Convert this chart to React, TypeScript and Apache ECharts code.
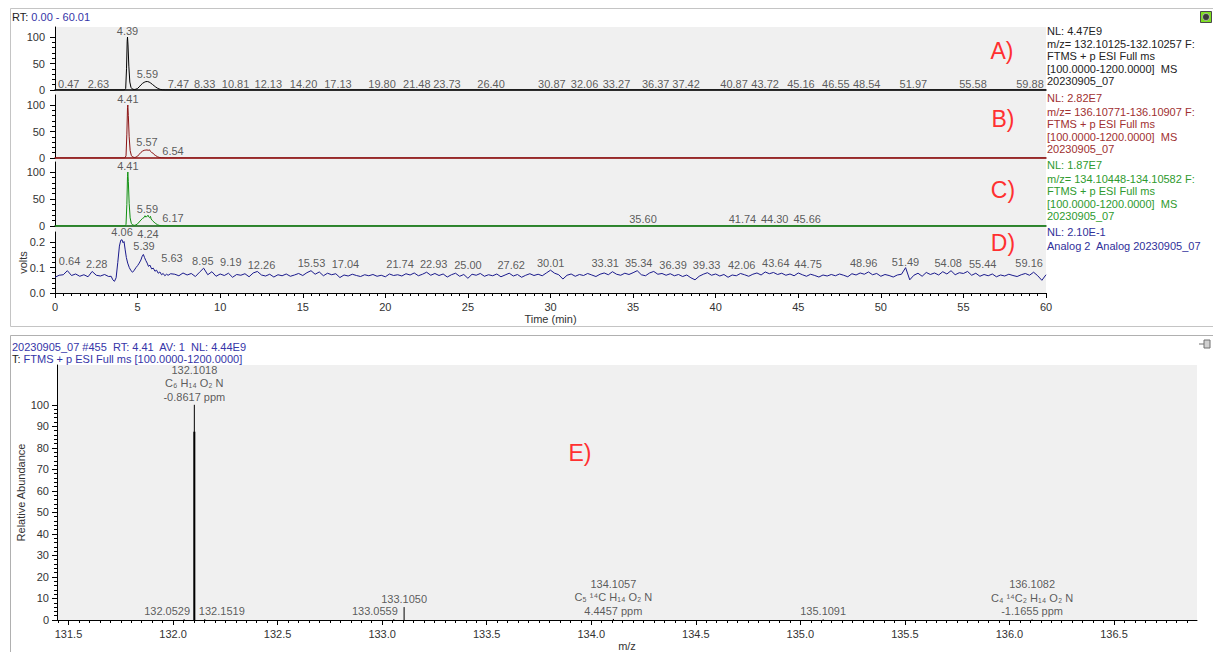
import React, { useEffect, useRef } from "react";
import * as echarts from "echarts";

const FONT = '"Liberation Sans", Arial, Helvetica, sans-serif';
const INK = "#333333";
const BLUE = "#3535a8";

// ---- Chromatogram A: m/z 132.10125-132.10257 (RT min, relative abundance %) ----
const traceA: [number, number][] = [
  [0, 0], [4.2, 0], [4.28, 3], [4.33, 40], [4.37, 92], [4.39, 100], [4.42, 85], [4.47, 45],
  [4.53, 15], [4.6, 5], [4.7, 1.5], [4.8, 1], [4.9, 1.5], [5.0, 3], [5.1, 6], [5.2, 9.5],
  [5.3, 12.5], [5.4, 14.5], [5.5, 15.8], [5.59, 16], [5.7, 15], [5.8, 13], [5.9, 10.5],
  [6.0, 8], [6.1, 5.5], [6.2, 3.5], [6.3, 2], [6.4, 1], [6.5, 0.3], [6.7, 0], [60, 0],
];

// ---- Chromatogram B: m/z 136.10771-136.10907 ----
const traceB: [number, number][] = [
  [0, 0], [4.22, 0], [4.3, 4], [4.35, 45], [4.39, 95], [4.41, 100], [4.44, 80], [4.49, 40],
  [4.55, 14], [4.62, 5], [4.7, 2], [4.8, 1], [4.9, 1.5], [5.0, 3.5], [5.1, 7], [5.2, 10.5],
  [5.3, 13], [5.4, 14.5], [5.5, 15], [5.57, 15.2], [5.65, 14.5], [5.72, 15.5], [5.78, 12.5],
  [5.85, 10.5], [5.92, 9.5], [6.0, 6.5], [6.1, 4.5], [6.2, 2.5], [6.3, 1.2], [6.45, 0.4],
  [6.7, 0], [60, 0],
];

// ---- Chromatogram C: m/z 134.10448-134.10582 ----
const traceC: [number, number][] = [
  [0, 0], [4.22, 0], [4.3, 3], [4.35, 40], [4.39, 92], [4.41, 100], [4.44, 82], [4.49, 42],
  [4.55, 15], [4.62, 5], [4.7, 2], [4.8, 1.2], [4.9, 2], [5.0, 4], [5.1, 7.5], [5.2, 11],
  [5.3, 14], [5.4, 16], [5.45, 19], [5.5, 16.5], [5.55, 17.5], [5.59, 18], [5.63, 20],
  [5.67, 17], [5.72, 15.5], [5.78, 18], [5.82, 13], [5.9, 10], [6.0, 7], [6.1, 4.5],
  [6.2, 2.5], [6.3, 1.2], [6.45, 0.4], [6.6, 0], [60, 0],
];

// ---- Trace D: Analog 2 detector signal (volts) ----
const ANALOG_STEP = 0.25;
// t = 0.00 ... 3.25
const analogEarly = [
  0.062, 0.07, 0.072, 0.088, 0.069, 0.075, 0.066, 0.072, 0.064, 0.085, 0.07, 0.067, 0.073, 0.065,
];
// t = 3.4 ... 7.0, sampled more densely across the two peaks
const analogPeak: [number, number][] = [
  [3.4, 0.066], [3.5, 0.052], [3.6, 0.046], [3.7, 0.06], [3.8, 0.12], [3.9, 0.185],
  [3.98, 0.208], [4.06, 0.21], [4.12, 0.198], [4.18, 0.203], [4.25, 0.17], [4.32, 0.14],
  [4.4, 0.118], [4.5, 0.1], [4.6, 0.088], [4.7, 0.082], [4.8, 0.09], [4.9, 0.1], [5.0, 0.108],
  [5.1, 0.118], [5.2, 0.13], [5.28, 0.145], [5.35, 0.152], [5.42, 0.14], [5.5, 0.128],
  [5.58, 0.118], [5.66, 0.105], [5.75, 0.11], [5.85, 0.095], [5.95, 0.098], [6.05, 0.086],
  [6.15, 0.09], [6.25, 0.078], [6.35, 0.083], [6.45, 0.072], [6.55, 0.077], [6.65, 0.068],
  [6.75, 0.074], [6.85, 0.07], [7.0, 0.076],
];
// t = 7.25 ... 60.00
const analogLate = [
  0.074, 0.068, 0.079, 0.071, 0.077, 0.065, 0.082, 0.098,
  0.072, 0.084, 0.066, 0.075, 0.069, 0.078, 0.062, 0.073,
  0.07, 0.076, 0.064, 0.079, 0.085, 0.071, 0.067, 0.074,
  0.063, 0.072, 0.068, 0.075, 0.066, 0.071, 0.077, 0.069,
  0.08, 0.088, 0.074, 0.083, 0.068, 0.078, 0.072, 0.076,
  0.061, 0.071, 0.067, 0.074, 0.069, 0.065, 0.072, 0.068,
  0.073, 0.066, 0.07, 0.064, 0.075, 0.069, 0.072, 0.067,
  0.076, 0.071, 0.079, 0.068, 0.074, 0.082, 0.07, 0.077,
  0.069, 0.075, 0.063, 0.072, 0.078, 0.066, 0.073, 0.058,
  0.074, 0.07, 0.077, 0.066, 0.072, 0.068, 0.075, 0.064,
  0.071, 0.078, 0.067, 0.073, 0.062, 0.07, 0.076, 0.069,
  0.074, 0.068, 0.079, 0.09, 0.078, 0.072, 0.055, 0.07,
  0.075, 0.066, 0.073, 0.069, 0.077, 0.071, 0.065, 0.074,
  0.079, 0.072, 0.084, 0.074, 0.07, 0.078, 0.073, 0.08,
  0.088, 0.072, 0.068, 0.079, 0.085, 0.074, 0.077, 0.07,
  0.076, 0.068, 0.073, 0.065, 0.071, 0.06, 0.052, 0.066,
  0.074, 0.08, 0.07, 0.075, 0.067, 0.073, 0.062, 0.071,
  0.068, 0.077, 0.072, 0.066, 0.074, 0.079, 0.071, 0.083,
  0.076, 0.081, 0.073, 0.078, 0.07, 0.075, 0.068, 0.079,
  0.072, 0.066, 0.074, 0.069, 0.063, 0.071, 0.067, 0.073,
  0.068, 0.075, 0.07, 0.064, 0.076, 0.071, 0.079, 0.074,
  0.083, 0.072, 0.077, 0.066, 0.073, 0.069, 0.063, 0.071,
  0.074, 0.1, 0.052, 0.07, 0.078, 0.066, 0.081, 0.073,
  0.079, 0.071, 0.084, 0.075, 0.088, 0.072, 0.08, 0.077,
  0.085, 0.07, 0.078, 0.066, 0.073, 0.068, 0.075, 0.064,
  0.071, 0.067, 0.074, 0.069, 0.065, 0.072, 0.077, 0.07,
  0.082, 0.068, 0.05, 0.072,
];
const traceD: [number, number][] = [
  ...analogEarly.map((v, i): [number, number] => [i * ANALOG_STEP, v]),
  ...analogPeak,
  ...analogLate.map((v, i): [number, number] => [7.25 + i * ANALOG_STEP, v]),
];

// ---- Retention-time annotations [RT, apex height] for each trace ----
const peaksA: [number, number][] = [
  [0.47, 0], [2.63, 0], [4.39, 100], [5.59, 18], [7.47, 0], [8.33, 0], [10.81, 0], [12.13, 0],
  [14.2, 0], [17.13, 0], [19.8, 0], [21.48, 0], [23.73, 0], [26.4, 0], [30.87, 0], [32.06, 0],
  [33.27, 0], [36.37, 0], [37.42, 0], [40.87, 0], [43.72, 0], [45.16, 0], [46.55, 0],
  [48.54, 0], [51.97, 0], [55.58, 0], [59.88, 0],
];
const peaksB: [number, number][] = [[4.41, 100], [5.57, 18], [6.54, 1]];
const peaksC: [number, number][] = [
  [4.41, 100], [5.59, 21], [6.17, 4.5], [35.6, 1], [41.74, 1], [44.3, 1], [45.66, 1],
];
const peaksD: [number, number][] = [
  [0.64, 0.104], [2.28, 0.092], [4.06, 0.215], [4.24, 0.211], [5.39, 0.16], [5.63, 0.116],
  [8.95, 0.104], [9.19, 0.1], [12.26, 0.085], [15.53, 0.096], [17.04, 0.092], [21.74, 0.092],
  [22.93, 0.092], [25.0, 0.088], [27.62, 0.088], [30.01, 0.096], [33.31, 0.096],
  [35.34, 0.096], [36.39, 0.088], [39.33, 0.088], [42.06, 0.088], [43.64, 0.096],
  [44.75, 0.092], [48.96, 0.096], [51.49, 0.1], [54.08, 0.096], [55.44, 0.092], [59.16, 0.096],
];

// Horizontal nudges (px) for labels moved aside to avoid collisions
const shiftA: Record<string, number> = {
  "0.47": 6, "8.33": 12, "10.81": 2, "12.13": 13, "14.20": 14, "21.48": 7, "30.87": -13,
  "33.27": 12, "37.42": 13, "40.87": 4, "43.72": -12, "46.55": 12, "48.54": 10, "59.88": -14,
};
const shiftB: Record<string, number> = { "6.54": 10 };
const shiftC: Record<string, number> = { "6.17": 16, "41.74": -2, "44.30": -12, "45.66": -2 };
const shiftD: Record<string, number> = {
  "0.64": 4, "2.28": 4, "4.24": 23, "5.63": 24, "9.19": 24, "12.26": 4, "17.04": 9,
  "21.74": -14, "36.39": 17, "39.33": 2, "42.06": -8, "44.75": 14, "55.44": 12, "59.16": -3,
};

// ---- Mass spectrum, scan #455 ----
const mzTicks = [131.5, 132.0, 132.5, 133.0, 133.5, 134.0, 134.5, 135.0, 135.5, 136.0, 136.5];
const abundanceTicks = [0, 10, 20, 30, 40, 50, 60, 70, 80, 90, 100];
const specPeaks: [number, number][] = [
  [132.0529, 0.4], [132.1018, 100], [132.1519, 0.4], [133.0559, 0.4], [133.105, 6],
  [134.1057, 0.5], [135.1091, 0.3], [136.1082, 0.3],
];
// profile body of the base peak (drawn heavier than the centroid stick)
const basePeakBody: [number, number][] = [[132.1018, 87.5]];
const specAnnotations: Record<string, string[]> = {
  "132.1018": ["C₆ H₁₄ O₂ N", "-0.8617 ppm"],
  "134.1057": ["C₅ ¹⁴C H₁₄ O₂ N", "4.4457 ppm"],
  "136.1082": ["C₄ ¹⁴C₂ H₁₄ O₂ N", "-1.1655 ppm"],
};
const specShift: Record<string, number> = { "132.0529": -17, "132.1519": 17, "133.0559": -19 };

const chromTraces = [traceA, traceB, traceC, traceD];
const chromPeaks = [peaksA, peaksB, peaksC, peaksD];
const chromShift = [shiftA, shiftB, shiftC, shiftD];
const chromColors = ["#000000", "#8b1212", "#109010", "#1a1a8c"];
const baselineColors = ["#000000", "#8b0a0a", "#0a5a0a", "#000000"];

function range(from: number, to: number, step: number) {
  const out: number[] = [];
  for (let v = from; v <= to + step / 1000; v += step) out.push(Math.round(v * 1000) / 1000);
  return out;
}

export default function App() {
  const ref = useRef<HTMLDivElement>(null);

  useEffect(() => {
    document.body.style.margin = "0";
    if (!ref.current) return;
    const chart = echarts.init(ref.current, undefined, { renderer: "svg" });

    const gridsChrom = [
      { left: 55, right: 167, top: 27, height: 63 },
      { left: 55, right: 167, top: 95, height: 63 },
      { left: 55, right: 167, top: 162, height: 64 },
      { left: 55, right: 167, top: 232, height: 61 },
    ];
    const yMax = [118.9, 118.9, 118.5, 0.2406];
    const yMajor = [[0, 50, 100], [0, 50, 100], [0, 50, 100], [0, 0.1, 0.2]];
    const yMinor = [range(0, 100, 10), range(0, 100, 10), range(0, 100, 10), range(0, 0.2, 0.02)];

    const xAxes: any[] = gridsChrom.map((_, i) => ({
      type: "value",
      gridIndex: i,
      min: 0,
      max: 60,
      interval: 5,
      axisLine: { show: true, onZero: false, lineStyle: { color: baselineColors[i], width: i < 3 ? 1.5 : 1 } },
      axisTick: { show: i === 3, length: 5, lineStyle: { color: "#000" } },
      minorTick: { show: i === 3, splitNumber: 10, length: 3, lineStyle: { color: "#000" } },
      axisLabel: { show: i === 3, color: INK, fontSize: 11, fontFamily: FONT, margin: 8 },
      splitLine: { show: false },
      minorSplitLine: { show: false },
      name: i === 3 ? "Time (min)" : "",
      nameLocation: "middle",
      nameGap: 20,
      nameMoveOverlap: false,
      nameTextStyle: { color: INK, fontSize: 11, fontFamily: FONT },
    }));
    const mzMin = 131.445;
    const mzMax = 136.897;
    xAxes.push({
      type: "value",
      gridIndex: 4,
      min: mzMin,
      max: mzMax,
      position: "bottom",
      axisLine: { show: true, onZero: false, lineStyle: { color: "#000" } },
      axisTick: { show: true, length: 5, customValues: mzTicks, lineStyle: { color: "#000" } },
      axisLabel: {
        customValues: mzTicks, color: INK, fontSize: 11, fontFamily: FONT, margin: 8,
        formatter: (v: number) => v.toFixed(1),
      },
      splitLine: { show: false },
      name: "m/z",
      nameLocation: "middle",
      nameGap: 20,
      nameMoveOverlap: false,
      nameTextStyle: { color: INK, fontSize: 11, fontFamily: FONT },
    });
    xAxes.push({
      type: "value",
      gridIndex: 4,
      min: mzMin,
      max: mzMax,
      position: "bottom",
      axisLine: { show: false, onZero: false },
      axisTick: { show: true, length: 3, customValues: range(131.45, 136.85, 0.05), lineStyle: { color: "#000" } },
      axisLabel: { show: false },
      splitLine: { show: false },
    });

    const yAxes: any[] = gridsChrom.map((_, i) => ({
      type: "value",
      gridIndex: i,
      min: 0,
      max: yMax[i],
      position: "left",
      axisLine: { show: true, lineStyle: { color: "#000" } },
      axisTick: { show: true, length: 5, customValues: yMajor[i], lineStyle: { color: "#000" } },
      axisLabel: {
        customValues: yMajor[i], color: INK, fontSize: 11, fontFamily: FONT, margin: 10,
        formatter: (v: number) => (i === 3 ? v.toFixed(1) : String(v)),
      },
      splitLine: { show: false },
      name: i === 3 ? "volts" : "",
      nameLocation: "middle",
      nameGap: 27,
      nameMoveOverlap: false,
      nameRotate: 90,
      nameTextStyle: { color: INK, fontSize: 11, fontFamily: FONT },
    }));
    gridsChrom.forEach((_, i) =>
      yAxes.push({
        type: "value",
        gridIndex: i,
        min: 0,
        max: yMax[i],
        position: "left",
        axisLine: { show: false },
        axisTick: { show: true, length: 3, customValues: yMinor[i], lineStyle: { color: "#000" } },
        axisLabel: { show: false },
        splitLine: { show: false },
      })
    );
    yAxes.push({
      type: "value",
      gridIndex: 4,
      min: 0,
      max: 118.5,
      position: "left",
      axisLine: { show: true, lineStyle: { color: "#000" } },
      axisTick: { show: true, length: 5, customValues: abundanceTicks, lineStyle: { color: "#000" } },
      axisLabel: { customValues: abundanceTicks, color: INK, fontSize: 11, fontFamily: FONT, margin: 8 },
      splitLine: { show: false },
      name: "Relative Abundance",
      nameLocation: "middle",
      nameGap: 31,
      nameMoveOverlap: false,
      nameRotate: 90,
      nameTextStyle: { color: INK, fontSize: 11, fontFamily: FONT },
    });
    yAxes.push({
      type: "value",
      gridIndex: 4,
      min: 0,
      max: 118.5,
      position: "left",
      axisLine: { show: false },
      axisTick: { show: true, length: 3, customValues: range(0, 100, 2), lineStyle: { color: "#000" } },
      axisLabel: { show: false },
      splitLine: { show: false },
    });

    const series: any[] = [];
    chromTraces.forEach((data, i) => {
      series.push({
        type: "line",
        xAxisIndex: i,
        yAxisIndex: i,
        data,
        symbol: "none",
        lineStyle: { color: chromColors[i], width: 1 },
        z: 3,
        silent: true,
      });
      series.push({
        type: "scatter",
        xAxisIndex: i,
        yAxisIndex: i,
        symbolSize: 1,
        itemStyle: { color: "rgba(0,0,0,0)" },
        clip: false,
        silent: true,
        z: 5,
        data: chromPeaks[i].map(([t, h]) => ({
          value: [t, h],
          label: { offset: [chromShift[i][t.toFixed(2)] || 0, 0] },
        })),
        label: {
          show: true,
          position: "top",
          distance: 0,
          color: INK,
          fontSize: 11,
          fontFamily: FONT,
          formatter: (p: any) => p.value[0].toFixed(2),
        },
      });
    });

    const stick = (width: number) => (params: any, api: any) => {
      const x = api.value(0);
      const h = api.value(1);
      const p0 = api.coord([x, 0]);
      const p1 = api.coord([x, h]);
      return {
        type: "line",
        shape: { x1: p0[0], y1: p0[1], x2: p1[0], y2: p1[1] },
        style: { stroke: "#000", lineWidth: width },
      };
    };
    series.push({
      type: "custom",
      xAxisIndex: 4,
      yAxisIndex: 8,
      data: specPeaks,
      renderItem: stick(1),
      encode: { x: 0, y: 1 },
      silent: true,
      z: 3,
    });
    series.push({
      type: "custom",
      xAxisIndex: 4,
      yAxisIndex: 8,
      data: basePeakBody,
      renderItem: stick(2),
      encode: { x: 0, y: 1 },
      silent: true,
      z: 3,
    });
    series.push({
      type: "scatter",
      xAxisIndex: 4,
      yAxisIndex: 8,
      symbolSize: 1,
      itemStyle: { color: "rgba(0,0,0,0)" },
      clip: false,
      silent: true,
      z: 5,
      data: specPeaks.map(([m, h]) => ({
        value: [m, h],
        label: { offset: [specShift[m.toFixed(4)] || 0, 0] },
      })),
      label: {
        show: true,
        position: "top",
        distance: 1,
        color: INK,
        fontSize: 11,
        fontFamily: FONT,
        lineHeight: 13.5,
        align: "center",
        formatter: (p: any) => {
          const key = p.value[0].toFixed(4);
          return [key, ...(specAnnotations[key] || [])].join("\n");
        },
      },
    });

    const txt = (x: number, y: number, text: string, fill: string, extra: any = {}) => ({
      type: "text",
      x,
      y,
      z: 100,
      silent: true,
      style: {
        text,
        fill,
        fontSize: 11,
        fontFamily: FONT,
        verticalAlign: "middle",
        align: "left",
        ...extra,
      },
    });
    const block = (x: number, y: number, lines: string[], fill: string) =>
      txt(x, y, lines.join("\n"), fill, { lineHeight: 12.5, verticalAlign: "top" });
    const ftms = ["FTMS + p ESI Full ms", "[100.0000-1200.0000]  MS", "20230905_07"];

    const graphic: any[] = [
      // panel frames
      { type: "rect", z: -20, silent: true, shape: { x: 10.5, y: 8.5, width: 1210, height: 318 }, style: { fill: "#fff", stroke: "#c4c4c4", lineWidth: 1 } },
      { type: "rect", z: -20, silent: true, shape: { x: 10.5, y: 335.5, width: 1210, height: 330 }, style: { fill: "#fff", stroke: "#b0b0b0", lineWidth: 1 } },
      // chromatogram plotting background
      { type: "rect", z: -10, silent: true, shape: { x: 55, y: 27, width: 991, height: 266 }, style: { fill: "#f0f0f0" } },
      // header lines
      txt(12, 17, "{k|RT:} {v|0.00 - 60.01}", BLUE, { rich: { k: { fill: "#222" }, v: { fill: BLUE } } }),
      txt(12, 347, "20230905_07 #455  RT: 4.41  AV: 1  NL: 4.44E9", BLUE),
      txt(12, 359, "{k|T:} {v|FTMS + p ESI Full ms [100.0000-1200.0000]}", BLUE, { rich: { k: { fill: "#222" }, v: { fill: BLUE } } }),
      // trace descriptions
      txt(1047, 31, "NL: 4.47E9", "#222"),
      block(1047, 37.5, ["m/z= 132.10125-132.10257 F:", ...ftms], "#222"),
      txt(1047, 98, "NL: 2.82E7", "#a03030"),
      block(1047, 105.5, ["m/z= 136.10771-136.10907 F:", ...ftms], "#a03030"),
      txt(1047, 165, "NL: 1.87E7", "#2e9a2e"),
      block(1047, 172.5, ["m/z= 134.10448-134.10582 F:", ...ftms], "#2e9a2e"),
      txt(1047, 232, "NL: 2.10E-1", "#30309a"),
      txt(1047, 246, "Analog 2  Analog 20230905_07", "#30309a"),
      // panel tags
      txt(1002, 51, "A)", "#ff3030", { fontSize: 23, align: "center" }),
      txt(1003, 119, "B)", "#ff3030", { fontSize: 23, align: "center" }),
      txt(1003, 190, "C)", "#ff3030", { fontSize: 23, align: "center" }),
      txt(1003, 243, "D)", "#ff3030", { fontSize: 23, align: "center" }),
      txt(580, 453, "E)", "#ff3030", { fontSize: 23, align: "center" }),
      // window icons
      { type: "rect", z: 100, silent: true, shape: { x: 1200.5, y: 11.5, width: 11, height: 11 }, style: { fill: "#7ee020", stroke: "#4a4a4a", lineWidth: 1 } },
      { type: "circle", z: 101, silent: true, shape: { cx: 1206, cy: 17, r: 3.5 }, style: { fill: "#3a3a3a", stroke: "#bbb", lineWidth: 0.8 } },
      { type: "rect", z: 100, silent: true, shape: { x: 1204, y: 340, width: 6, height: 8 }, style: { fill: "#d0d0d0", stroke: "#707070", lineWidth: 1 } },
      { type: "line", z: 100, silent: true, shape: { x1: 1199, y1: 344, x2: 1204, y2: 344 }, style: { stroke: "#707070", lineWidth: 1 } },
    ];

    chart.setOption({
      animation: false,
      textStyle: { fontFamily: FONT },
      grid: [
        ...gridsChrom,
        { left: 57, right: 16, top: 365, height: 256, show: true, backgroundColor: "#f0f0f0", borderWidth: 0 },
      ],
      xAxis: xAxes,
      yAxis: yAxes,
      series,
      graphic,
    });

    return () => chart.dispose();
  }, []);

  return <div ref={ref} style={{ width: 1213, height: 652 }} />;
}
